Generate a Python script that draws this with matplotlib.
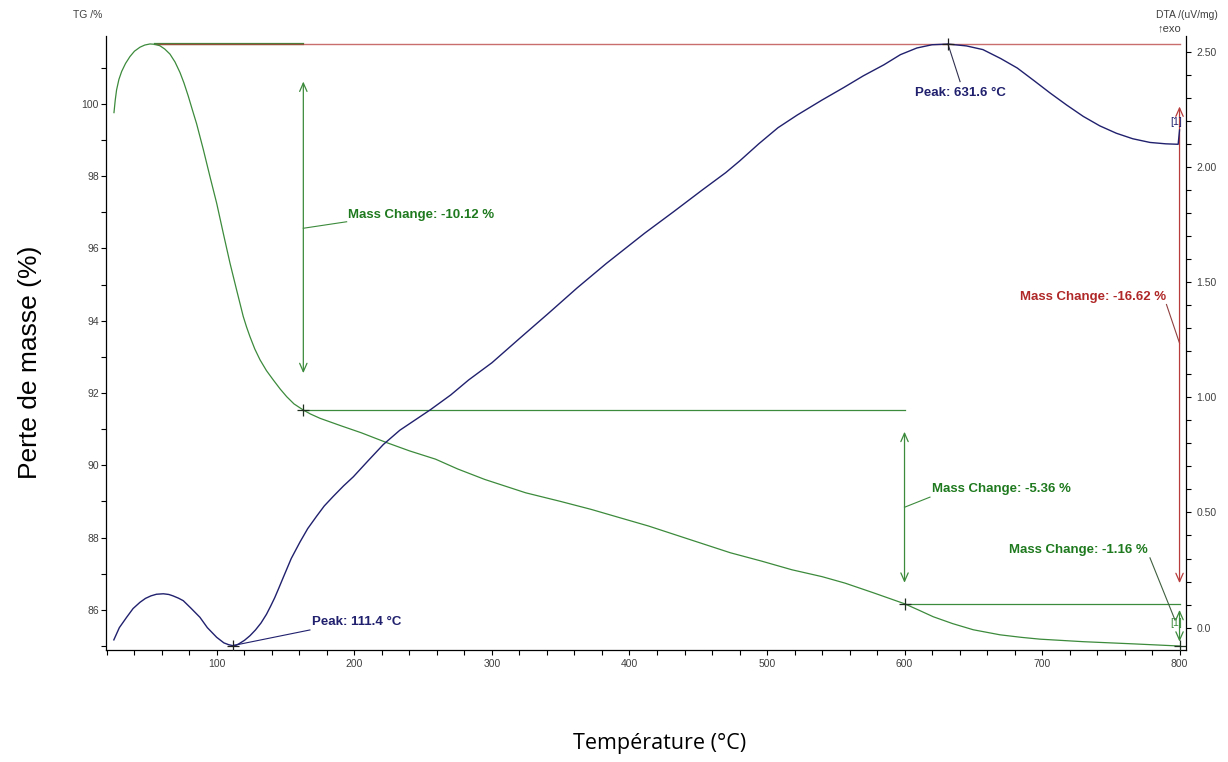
import matplotlib
matplotlib.use("Agg")
import matplotlib.pyplot as plt
from matplotlib.ticker import MultipleLocator

# TG curve (left axis, %)
temp_tg = [25.1, 26.0, 27.0, 28.7, 30.7, 33.5, 36.7, 40.0, 44.0, 47.5, 51.3, 55.0, 58.5,
           62.0, 65.8, 69.5, 73.1, 76.0, 79.1, 82.0, 85.2, 90.0, 94.9, 99.8, 104.6,
           109.5, 114.3, 119.1, 121.5, 124.0, 127.5, 131.3, 136.0, 141.0, 146.0, 150.7,
           156.0, 162.8, 168.0, 175.0, 190.5, 205.0, 223.3, 240.0, 259.0, 275.0, 294.7,
           324.5, 350.0, 372.2, 393.0, 413.9, 443.6, 473.4, 496.0, 518.1, 540.0, 556.8,
           577.6, 600.0, 610.0, 620.9, 635.0, 650.0, 669.5, 685.0, 698.5, 730.0, 766.2,
           800.0]
tg = [99.76, 100.10, 100.39, 100.68, 100.90, 101.12, 101.31, 101.46, 101.57, 101.63,
      101.66, 101.65, 101.61, 101.52, 101.38, 101.16, 100.87, 100.58, 100.22, 99.85,
      99.45, 98.75, 97.99, 97.25, 96.42, 95.59, 94.85, 94.12, 93.83, 93.56, 93.22,
      92.92, 92.62, 92.36, 92.11, 91.90, 91.70, 91.53, 91.42, 91.30, 91.09, 90.90,
      90.63, 90.40, 90.17, 89.90, 89.61, 89.24, 89.00, 88.78, 88.55, 88.32, 87.95,
      87.58, 87.35, 87.11, 86.92, 86.74, 86.47, 86.17, 86.00, 85.81, 85.62, 85.45,
      85.31, 85.24, 85.19, 85.12, 85.06, 85.00]

# DTA curve (right axis, uV/mg)
temp_dta = [25, 29, 34.3, 39, 44, 48, 52, 56, 61, 65, 68, 72, 75.5, 81, 87.6, 93, 99.8,
            105, 108.5, 111.4, 114, 116, 120, 124, 128, 132, 136, 139, 142, 145, 148,
            154, 160.4, 166, 172.5, 178, 184.6, 192, 199.2, 210, 221, 233, 245, 255,
            270, 283, 300, 320, 341, 362, 383, 411, 432, 453, 470, 480, 494, 508, 522,
            540, 556, 570, 585, 597, 609, 620, 631.6, 645, 657, 670, 682, 694, 706, 718,
            730, 742, 754, 766, 778.5, 790, 799, 800]
dta = [-0.053, 0.000, 0.045, 0.083, 0.110, 0.127, 0.138, 0.145, 0.147, 0.144, 0.138,
       0.128, 0.117, 0.085, 0.045, 0.000, -0.042, -0.066, -0.074, -0.078, -0.076,
       -0.070, -0.055, -0.035, -0.010, 0.020, 0.058, 0.093, 0.130, 0.172, 0.215,
       0.300, 0.372, 0.430, 0.484, 0.528, 0.570, 0.615, 0.655, 0.725, 0.795, 0.857,
       0.905, 0.945, 1.010, 1.075, 1.150, 1.255, 1.364, 1.475, 1.580, 1.712, 1.805,
       1.900, 1.975, 2.025, 2.100, 2.170, 2.225, 2.290, 2.345, 2.395, 2.443, 2.487,
       2.516, 2.530, 2.533, 2.525, 2.509, 2.470, 2.429, 2.375, 2.320, 2.268, 2.219,
       2.178, 2.146, 2.122, 2.106, 2.100, 2.098, 2.160]

# mass change steps
step_temps = [55.0, 162.8, 600.0, 800.0]
step_levels = [101.66, 91.53, 86.17, 85.01]
step_labels = ["Mass Change: -10.12 %", "Mass Change: -5.36 %", "Mass Change: -1.16 %"]
total_label = "Mass Change: -16.62 %"

# DTA peaks
peak_temps = [111.4, 631.6]
peak_values = [-0.078, 2.533]
peak_labels = ["Peak: 111.4 °C", "Peak: 631.6 °C"]

dta_ticks = [0.0, 0.5, 1.0, 1.5, 2.0, 2.5]
dta_ticklabels = ["0.0", "0.50", "1.00", "1.50", "2.00", "2.50"]

GREEN = "#3c8a3c"
GREEN_TXT = "#1f7a1f"
NAVY = "#20206e"
RED = "#b83c3c"
RED_TXT = "#b02828"
TICK_TXT = "#404040"
SANS = ["Liberation Sans", "DejaVu Sans"]

W, H = 1228, 762
fig = plt.figure(figsize=(W / 100, H / 100), dpi=100)
ax = fig.add_axes([106 / W, 1 - 650 / H, 1080 / W, 614 / H])
ax2 = ax.twinx()

ax.set_xlim(19.3, 804.7)
ax.set_ylim(84.89, 101.88)
ax2.set_ylim(-0.097, 2.568)

for a in (ax, ax2):
    a.spines["top"].set_visible(False)
    for s in a.spines.values():
        s.set_linewidth(0.9)
ax.spines["right"].set_visible(False)
ax2.spines["left"].set_visible(False)
ax2.spines["bottom"].set_visible(False)

ax.xaxis.set_major_locator(MultipleLocator(100))
ax.xaxis.set_minor_locator(MultipleLocator(20))
ax.yaxis.set_major_locator(MultipleLocator(2))
ax.yaxis.set_minor_locator(MultipleLocator(1))
ax2.set_yticks(dta_ticks)
ax2.set_yticklabels(dta_ticklabels)
ax2.yaxis.set_minor_locator(MultipleLocator(0.1))

ax.tick_params(axis="x", which="both", direction="out", length=3.5, width=0.8,
               labelsize=7.5, labelcolor=TICK_TXT, pad=3)
ax.tick_params(axis="y", which="both", direction="out", length=3.5, width=0.8,
               labelsize=7.5, labelcolor=TICK_TXT, pad=1.5)
ax2.tick_params(axis="y", which="both", direction="out", length=3.5, width=0.8,
                labelsize=7.5, labelcolor=TICK_TXT, pad=4)
for lab in ax.get_xticklabels() + ax.get_yticklabels() + ax2.get_yticklabels():
    lab.set_family(SANS)

# curves
ax.plot(temp_tg, tg, color=GREEN, lw=0.9, zorder=3)
ax2.plot(temp_dta, dta, color=NAVY, lw=1.0, zorder=3)

# reference levels
ax.plot([step_temps[0], step_temps[1]], [step_levels[0]] * 2, color=GREEN, lw=1.6, zorder=2)
ax.plot([step_temps[0], step_temps[3]], [step_levels[0]] * 2, color=RED, lw=1.0, alpha=0.75, zorder=2)
ax.plot([step_temps[1], step_temps[2]], [step_levels[1]] * 2, color=GREEN, lw=0.9, zorder=2)
ax.plot([step_temps[2], step_temps[3]], [step_levels[2]] * 2, color=GREEN, lw=0.9, zorder=2)

# markers
ax.plot(step_temps[1:], [step_levels[1], step_levels[2], step_levels[3]], ls="none",
        marker="+", ms=8, mew=0.9, color="#203020", zorder=4)
ax2.plot(peak_temps, peak_values, ls="none", marker="+", ms=8, mew=0.9,
         color="#202020", zorder=4)


def dbl_arrow(a, x, y0, y1, color):
    a.annotate("", xy=(x, y1), xytext=(x, y0),
               arrowprops=dict(arrowstyle="<->,head_length=0.5,head_width=0.22",
                               color=color, lw=0.9, shrinkA=0, shrinkB=0,
                               mutation_scale=12))


dbl_arrow(ax, step_temps[1], 92.55, 100.62, GREEN)
dbl_arrow(ax, step_temps[2], 86.75, 90.93, GREEN)
dbl_arrow(ax, step_temps[3], 86.74, 99.93, RED)
dbl_arrow(ax, step_temps[3], 85.12, 86.0, GREEN)

txt = dict(fontsize=9.5, fontweight="bold", family=SANS)

# -10.12 %
ax.plot([162.8, 194.3], [96.56, 96.74], color=GREEN, lw=0.8)
ax.text(195.4, 96.93, step_labels[0], color=GREEN_TXT, va="center", ha="left", **txt)
# -5.36 %
ax.plot([600, 618.5], [88.84, 89.12], color=GREEN, lw=0.8)
ax.text(620, 89.35, step_labels[1], color=GREEN_TXT, va="center", ha="left", **txt)
# -1.16 %
ax.plot([778.5, 796.7], [87.44, 85.72], color="#406040", lw=0.8)
ax.text(777, 87.66, step_labels[2], color=GREEN_TXT, va="center", ha="right", **txt)
# -16.62 %
ax.plot([790.5, 800], [94.45, 93.38], color="#904040", lw=0.8)
ax.text(790.2, 94.66, total_label, color=RED_TXT, va="center", ha="right", **txt)

# peaks
ax2.plot([111.4, 167.6], [peak_values[0], -0.01], color=NAVY, lw=0.8)
ax2.text(169.1, 0.026, peak_labels[0], color=NAVY, va="center", ha="left", **txt)
ax2.plot([631.6, 640.4], [peak_values[1], 2.37], color="#303050", lw=0.8)
ax2.text(640.4, 2.32, peak_labels[1], color=NAVY, va="center", ha="center", **txt)

# curve tags
ax2.text(797.5, 2.196, "[1]", color=NAVY, fontsize=7.5, ha="center", va="center", family=SANS)
ax.text(797.5, 85.64, "[1]", color=GREEN, fontsize=7.5, ha="center", va="center", family=SANS)

# axis titles
fig.text(88 / W, 1 - 15 / H, "TG /%", fontsize=7.5, color=TICK_TXT, ha="center",
         va="center", family=SANS)
fig.text(1218 / W, 1 - 15 / H, "DTA /(uV/mg)", fontsize=7.5, color=TICK_TXT, ha="right",
         va="center", family=SANS)
fig.text(1169 / W, 1 - 28 / H, "↑exo", fontsize=8, color=TICK_TXT, ha="center",
         va="center", family=SANS)

fig.text(30 / W, 1 - 362 / H, "Perte de masse (%)", fontsize=19, rotation=90,
         ha="center", va="center", family=SANS)
fig.text(660 / W, 1 - 743 / H, "Température (°C)", fontsize=15.5,
         ha="center", va="center", family=["Open Sans", "DejaVu Sans"])

fig.savefig("out.png", dpi=100, facecolor="white")
